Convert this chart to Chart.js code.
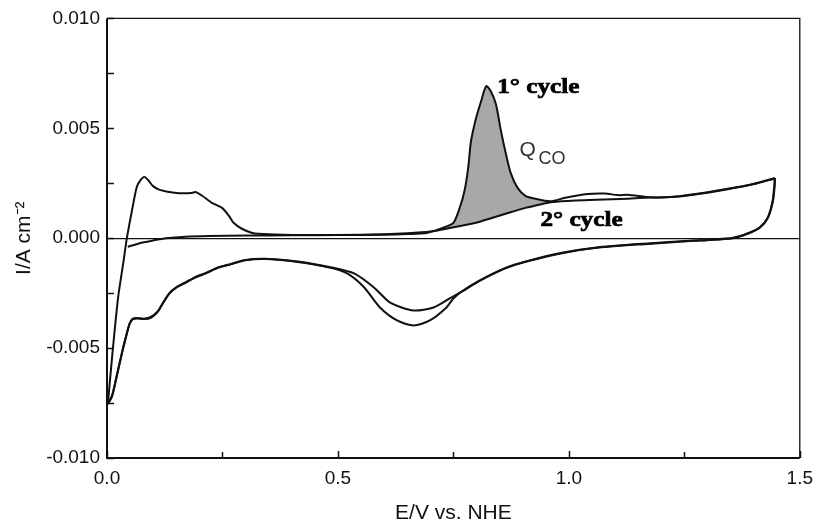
<!DOCTYPE html>
<html>
<head>
<meta charset="utf-8">
<script src="https://cdn.jsdelivr.net/npm/chart.js@4.4.1/dist/chart.umd.min.js"></script>
<style>
  html, body { margin: 0; padding: 0; background: #ffffff; }
  canvas { display: block; }
</style>
</head>
<body>
<canvas id="c" width="822" height="524"></canvas>
<script>
// ---------- DATA (E / V vs NHE, I / A cm^-2) ----------
const xTickLabels = ['0.0', '0.5', '1.0', '1.5'];
const yTickLabels = ['-0.010', '-0.005', '0.000', '0.005', '0.010'];

// 1st cycle, anodic sweep (starts at 0.05 V with CO adsorbed)
const c1AnodicE = [0.045, 0.06, 0.077, 0.10, 0.128, 0.17, 0.22, 0.30, 0.40, 0.50, 0.60, 0.65, 0.692, 0.728, 0.75, 0.763, 0.774, 0.782, 0.788, 0.799, 0.81, 0.821, 0.831, 0.842, 0.853, 0.863, 0.874, 0.889, 0.906, 0.928, 0.96, 0.992, 1.035, 1.078, 1.106, 1.127, 1.178, 1.22, 1.27, 1.341, 1.399, 1.446];
const c1AnodicI = [-0.00039, -0.00030, -0.00020, -0.00010, 0.00000, 0.00007, 0.00010, 0.00012, 0.00013, 0.00014, 0.00016, 0.00019, 0.00024, 0.00048, 0.00070, 0.00134, 0.00215, 0.00320, 0.00440, 0.00546, 0.00623, 0.00692, 0.00669, 0.00610, 0.00488, 0.00390, 0.00297, 0.00229, 0.00193, 0.00179, 0.00168, 0.00184, 0.00200, 0.00203, 0.00196, 0.00198, 0.00186, 0.00187, 0.00200, 0.00224, 0.00247, 0.00274];

// 1st cycle, cathodic sweep
const c1CathodicE = [1.446, 1.446, 1.442, 1.431, 1.413, 1.385, 1.356, 1.30, 1.27, 1.163, 1.056, 0.985, 0.913, 0.864, 0.806, 0.771, 0.75, 0.735, 0.699, 0.664, 0.628, 0.591, 0.557, 0.521, 0.484, 0.413, 0.343, 0.30, 0.27, 0.24, 0.214, 0.19, 0.171, 0.15, 0.135, 0.12, 0.11, 0.095, 0.08, 0.065, 0.056, 0.049, 0.04, 0.034, 0.021, 0.011, 0.002];
const c1CathodicI = [0.00274, 0.00247, 0.00170, 0.00093, 0.00048, 0.00020, 0.00002, -0.00008, -0.00011, -0.00025, -0.00043, -0.00066, -0.00102, -0.00134, -0.00193, -0.00238, -0.00274, -0.00315, -0.00374, -0.00397, -0.00374, -0.00315, -0.00224, -0.00161, -0.00134, -0.00108, -0.00095, -0.00100, -0.00118, -0.00135, -0.00160, -0.00180, -0.00202, -0.00225, -0.00252, -0.00300, -0.00335, -0.00362, -0.00368, -0.00365, -0.00368, -0.00390, -0.00460, -0.00510, -0.00630, -0.00720, -0.00755];

// 2nd cycle, anodic sweep
const c2AnodicE = [0.002, 0.005, 0.013, 0.024, 0.035, 0.043, 0.054, 0.064, 0.071, 0.081, 0.09, 0.099, 0.114, 0.15, 0.184, 0.192, 0.206, 0.227, 0.249, 0.264, 0.274, 0.292, 0.313, 0.328, 0.40, 0.50, 0.60, 0.65, 0.70, 0.742, 0.799, 0.835, 0.87, 0.906, 0.943, 0.964, 1.013, 1.06, 1.127, 1.178, 1.22, 1.27, 1.341, 1.399, 1.446];
const c2AnodicI = [-0.00755, -0.00680, -0.00497, -0.00270, -0.00116, 0.00000, 0.00125, 0.00230, 0.00260, 0.00279, 0.00262, 0.00238, 0.00220, 0.00206, 0.00206, 0.00210, 0.00193, 0.00161, 0.00138, 0.00102, 0.00070, 0.00043, 0.00025, 0.00020, 0.00015, 0.00015, 0.00018, 0.00022, 0.00030, 0.00046, 0.00070, 0.00093, 0.00116, 0.00138, 0.00156, 0.00165, 0.00172, 0.00175, 0.00180, 0.00185, 0.00187, 0.00198, 0.00222, 0.00245, 0.00272];

// 2nd cycle, cathodic sweep
const c2CathodicE = [1.446, 1.445, 1.441, 1.430, 1.412, 1.384, 1.355, 1.30, 1.27, 1.163, 1.056, 0.985, 0.913, 0.864, 0.806, 0.771, 0.742, 0.707, 0.664, 0.613, 0.578, 0.536, 0.484, 0.413, 0.343, 0.30, 0.27, 0.24, 0.214, 0.19, 0.171, 0.15, 0.135, 0.12, 0.11, 0.095, 0.08, 0.065, 0.056, 0.049, 0.04, 0.034, 0.021, 0.011, 0.002];
const c2CathodicI = [0.00272, 0.00245, 0.00168, 0.00091, 0.00046, 0.00018, 0.00000, -0.00009, -0.00012, -0.00027, -0.00045, -0.00068, -0.00104, -0.00136, -0.00195, -0.00240, -0.00274, -0.00315, -0.00329, -0.00293, -0.00224, -0.00161, -0.00132, -0.00106, -0.00094, -0.00099, -0.00116, -0.00133, -0.00158, -0.00178, -0.00200, -0.00223, -0.00250, -0.00298, -0.00332, -0.00358, -0.00366, -0.00363, -0.00366, -0.00388, -0.00455, -0.00505, -0.00625, -0.00715, -0.00752];

// Potential window of the shaded CO-stripping charge (Q_CO)
const qcoRange = [0.69, 0.96];

// ---------- helpers ----------
const zip = (xs, ys) => xs.map((v, i) => ({ x: v, y: ys[i] }));
const inRange = p => p.x >= qcoRange[0] && p.x <= qcoRange[1];
const qcoShape = zip(c1AnodicE, c1AnodicI).filter(inRange)
  .concat(zip(c2AnodicE, c2AnodicI).filter(inRange).reverse());

const LINE = '#111111';
const lineDs = (label, xs, ys) => ({
  label, data: zip(xs, ys), showLine: true, borderColor: LINE, borderWidth: 2,
  pointRadius: 0, fill: false, tension: 0.25, order: 0
});

const near = (v, step) => Math.abs(v / step - Math.round(v / step)) < 1e-6;

const decor = {
  id: 'decor',
  afterDatasetsDraw(chart) {
    const { ctx, chartArea: a, scales: { x, y } } = chart;
    ctx.save();
    ctx.strokeStyle = '#111';
    ctx.lineWidth = 1.5;
    // inward tick marks
    x.ticks.forEach(t => {
      const px = Math.round(x.getPixelForValue(t.value)) + 0.5;
      const len = near(t.value, 0.5) ? 7 : 6;
      ctx.beginPath(); ctx.moveTo(px, a.bottom); ctx.lineTo(px, a.bottom - len); ctx.stroke();
    });
    y.ticks.forEach(t => {
      const py = Math.round(y.getPixelForValue(t.value)) + 0.5;
      ctx.beginPath(); ctx.moveTo(a.left, py); ctx.lineTo(a.left + 7, py); ctx.stroke();
    });
    // frame
    ctx.lineWidth = 2;
    ctx.beginPath(); ctx.moveTo(a.left, a.top); ctx.lineTo(a.left, a.bottom); ctx.lineTo(a.right, a.bottom); ctx.stroke();
    ctx.lineWidth = 1.3;
    ctx.beginPath(); ctx.moveTo(a.left, a.top); ctx.lineTo(a.right, a.top); ctx.lineTo(a.right, a.bottom); ctx.stroke();

    // annotations
    const wide = (text, e, i, sx) => {
      ctx.save();
      ctx.translate(x.getPixelForValue(e), y.getPixelForValue(i));
      ctx.scale(sx, 1);
      ctx.fillText(text, 0, 0);
      ctx.strokeText(text, 0, 0);
      ctx.restore();
    };
    ctx.fillStyle = '#000';
    ctx.strokeStyle = '#000';
    ctx.lineWidth = 0.7;
    ctx.textBaseline = 'alphabetic';
    ctx.textAlign = 'left';
    ctx.font = 'bold 21px "Liberation Serif", "DejaVu Serif", serif';
    wide('1° cycle', 0.845, 0.0066, 1.2);
    wide('2° cycle', 0.9385, 0.00057, 1.2);

    ctx.fillStyle = '#333';
    ctx.font = '21px "Liberation Sans", Arial, sans-serif';
    ctx.fillText('Q', x.getPixelForValue(0.893), y.getPixelForValue(0.00374));
    ctx.font = '18px "Liberation Sans", Arial, sans-serif';
    ctx.fillText('CO', x.getPixelForValue(0.934), y.getPixelForValue(0.00336));
    ctx.restore();
  }
};

const tickFont = { family: '"Liberation Sans", Arial, sans-serif', size: 19 };

new Chart(document.getElementById('c'), {
  type: 'scatter',
  data: {
    datasets: [
      lineDs('1st cycle anodic', c1AnodicE, c1AnodicI),
      lineDs('1st cycle cathodic', c1CathodicE, c1CathodicI),
      lineDs('2nd cycle anodic', c2AnodicE, c2AnodicI),
      lineDs('2nd cycle cathodic', c2CathodicE, c2CathodicI),
      {
        label: 'Q_CO', data: qcoShape, showLine: true, borderWidth: 0,
        borderColor: 'rgba(0,0,0,0)', backgroundColor: '#a8a8a8',
        pointRadius: 0, fill: 'shape', tension: 0, order: 10
      }
    ]
  },
  options: {
    responsive: false,
    animation: false,
    devicePixelRatio: 1,
    layout: { padding: { top: 17, right: 15, bottom: 0, left: 0 } },
    plugins: { legend: { display: false }, tooltip: { enabled: false } },
    scales: {
      x: {
        type: 'linear', min: 0, max: 1.5,
        afterFit: s => { s.height = 66; },
        border: { display: false },
        grid: { display: false, drawTicks: false },
        ticks: {
          stepSize: 0.25, autoSkip: false, maxRotation: 0, padding: 9,
          color: '#111', font: tickFont,
          callback: v => near(v, 0.5) ? xTickLabels[Math.round(v / 0.5)] : ''
        },
        title: {
          display: true, text: 'E/V vs. NHE', color: '#111',
          font: { family: '"Liberation Sans", Arial, sans-serif', size: 21, lineHeight: 1.0 },
          padding: { top: 0, bottom: 0 }
        }
      },
      y: {
        type: 'linear', min: -0.01, max: 0.01,
        afterFit: s => { s.width = 107; },
        border: { display: false },
        grid: {
          drawTicks: false,
          lineWidth: 1.2,
          color: c => (c.tick && Math.abs(c.tick.value) < 1e-9) ? '#111' : 'rgba(0,0,0,0)'
        },
        ticks: {
          stepSize: 0.0025, autoSkip: false, padding: 7,
          color: '#111', font: tickFont,
          callback: v => near(v, 0.005) ? yTickLabels[Math.round((v + 0.01) / 0.005)] : ''
        },
        title: {
          display: true, text: 'I/A cm⁻²', color: '#111',
          font: { family: '"Liberation Sans", Arial, sans-serif', size: 21 },
          padding: { top: 12, bottom: 0 }
        }
      }
    }
  },
  plugins: [decor]
});
</script>
</body>
</html>
